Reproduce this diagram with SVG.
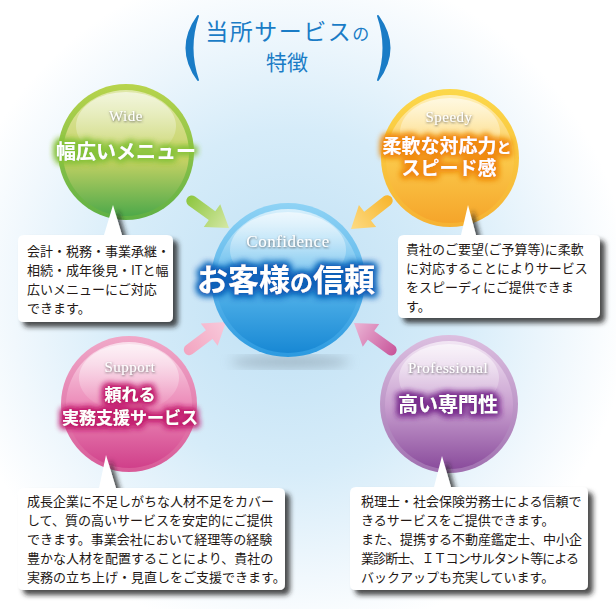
<svg xmlns="http://www.w3.org/2000/svg" width="616" height="609" viewBox="0 0 616 609">
<defs>
<style>
.jp{font-family:"Noto Sans CJK JP","Noto Sans",sans-serif}
.body{font-family:"Noto Sans CJK JP","Noto Sans",sans-serif;font-size:13px;fill:#231815}
.en{font-family:"Liberation Serif","DejaVu Serif",serif;fill:#fff;text-anchor:middle;letter-spacing:0.5px}
.big{font-family:"Noto Sans CJK JP","Noto Sans",sans-serif;font-weight:bold;fill:#fff;text-anchor:middle}
.box{fill:#fff;filter:url(#shadow)}
</style>
<radialGradient id="bg" cx="290" cy="300" r="340" gradientUnits="userSpaceOnUse">
<stop offset="0" stop-color="#bfe0f4"/><stop offset="0.5" stop-color="#d6ecf9"/><stop offset="0.82" stop-color="#f1f8fd"/><stop offset="1" stop-color="#ffffff"/>
</radialGradient>
<linearGradient id="hl" x1="0" y1="0" x2="0" y2="1"><stop offset="0" stop-color="#fff" stop-opacity="0.6"/><stop offset="1" stop-color="#fff" stop-opacity="0"/></linearGradient>
<linearGradient id="gO" x1="0" y1="0" x2="0" y2="1"><stop offset="0" stop-color="#b8d44c"/><stop offset="1" stop-color="#5fb045"/></linearGradient>
<linearGradient id="gI" x1="0" y1="0" x2="0" y2="1"><stop offset="0" stop-color="#dfe8a8"/><stop offset="0.55" stop-color="#c6d264"/><stop offset="1" stop-color="#4ea94a"/></linearGradient>
<linearGradient id="oO" x1="0" y1="0" x2="0" y2="1"><stop offset="0" stop-color="#fcd84a"/><stop offset="1" stop-color="#f6b233"/></linearGradient>
<linearGradient id="oI" x1="0" y1="0" x2="0" y2="1"><stop offset="0" stop-color="#fff0b8"/><stop offset="0.5" stop-color="#fbc94a"/><stop offset="1" stop-color="#f5a52a"/></linearGradient>
<linearGradient id="bO" x1="0" y1="0" x2="0" y2="1"><stop offset="0" stop-color="#8fd3f5"/><stop offset="1" stop-color="#2c9ae0"/></linearGradient>
<linearGradient id="bI" x1="0" y1="0" x2="0" y2="1"><stop offset="0" stop-color="#d8f0fc"/><stop offset="0.5" stop-color="#5ab8ec"/><stop offset="1" stop-color="#1888d4"/></linearGradient>
<linearGradient id="pO" x1="0" y1="0" x2="0" y2="1"><stop offset="0" stop-color="#f0a8c8"/><stop offset="1" stop-color="#d85a98"/></linearGradient>
<linearGradient id="pI" x1="0" y1="0" x2="0" y2="1"><stop offset="0" stop-color="#fae0ec"/><stop offset="0.5" stop-color="#ec8ab8"/><stop offset="1" stop-color="#d0408a"/></linearGradient>
<linearGradient id="vO" x1="0" y1="0" x2="0" y2="1"><stop offset="0" stop-color="#dcbfe0"/><stop offset="1" stop-color="#a070b0"/></linearGradient>
<linearGradient id="vI" x1="0" y1="0" x2="0" y2="1"><stop offset="0" stop-color="#f2e6f4"/><stop offset="0.5" stop-color="#c9a0d0"/><stop offset="1" stop-color="#8a4c9c"/></linearGradient>
<linearGradient id="aG" x1="0" y1="0" x2="1" y2="0"><stop offset="0" stop-color="#8dc63f"/><stop offset="1" stop-color="#d5e8a6"/></linearGradient>
<linearGradient id="aO" x1="0" y1="0" x2="1" y2="0"><stop offset="0" stop-color="#f7b52c"/><stop offset="1" stop-color="#fddb84"/></linearGradient>
<linearGradient id="aP" x1="0" y1="0" x2="1" y2="0"><stop offset="0" stop-color="#f2a4c0"/><stop offset="1" stop-color="#f8cadb"/></linearGradient>
<linearGradient id="aV" x1="0" y1="0" x2="1" y2="0"><stop offset="0" stop-color="#c8559a"/><stop offset="1" stop-color="#ebb6d6"/></linearGradient>
<filter id="shadow" x="-10%" y="-10%" width="130%" height="140%">
<feDropShadow dx="5" dy="5" stdDeviation="2.5" flood-color="#222" flood-opacity="0.8"/>
</filter>
<filter id="soft" x="-10%" y="-30%" width="120%" height="160%">
<feDropShadow dx="0.5" dy="1" stdDeviation="0.8" flood-color="#444" flood-opacity="0.85"/>
</filter>
<filter id="glowG" x="-20%" y="-60%" width="140%" height="220%"><feMorphology in="SourceAlpha" operator="dilate" radius="2" result="d"/><feGaussianBlur in="d" stdDeviation="3" result="b"/><feFlood flood-color="#86c23a"/><feComposite in2="b" operator="in" result="g"/><feMerge><feMergeNode in="g"/><feMergeNode in="g"/><feMergeNode in="SourceGraphic"/></feMerge></filter>
<filter id="glowO" x="-20%" y="-40%" width="140%" height="180%"><feMorphology in="SourceAlpha" operator="dilate" radius="2" result="d"/><feGaussianBlur in="d" stdDeviation="3" result="b"/><feFlood flood-color="#f08a10"/><feComposite in2="b" operator="in" result="g"/><feMerge><feMergeNode in="g"/><feMergeNode in="g"/><feMergeNode in="SourceGraphic"/></feMerge></filter>
<filter id="glowB" x="-20%" y="-60%" width="140%" height="220%"><feMorphology in="SourceAlpha" operator="dilate" radius="2" result="d"/><feGaussianBlur in="d" stdDeviation="3.5" result="b"/><feFlood flood-color="#0d5fb8"/><feComposite in2="b" operator="in" result="g"/><feMerge><feMergeNode in="g"/><feMergeNode in="g"/><feMergeNode in="SourceGraphic"/></feMerge></filter>
<filter id="glowP" x="-20%" y="-40%" width="140%" height="180%"><feMorphology in="SourceAlpha" operator="dilate" radius="2" result="d"/><feGaussianBlur in="d" stdDeviation="3" result="b"/><feFlood flood-color="#c2206e"/><feComposite in2="b" operator="in" result="g"/><feMerge><feMergeNode in="g"/><feMergeNode in="g"/><feMergeNode in="SourceGraphic"/></feMerge></filter>
<filter id="glowV" x="-20%" y="-60%" width="140%" height="220%"><feMorphology in="SourceAlpha" operator="dilate" radius="2" result="d"/><feGaussianBlur in="d" stdDeviation="3" result="b"/><feFlood flood-color="#7a2f8e"/><feComposite in2="b" operator="in" result="g"/><feMerge><feMergeNode in="g"/><feMergeNode in="g"/><feMergeNode in="SourceGraphic"/></feMerge></filter>
<filter id="blur6"><feGaussianBlur stdDeviation="6"/></filter>
<path id="arrow" d="M0,0 L-21,-14 L-21,-5.5 L-46,-5.5 A5.5,5.5 0 0 0 -46,5.5 L-21,5.5 L-21,14 Z"/>
</defs>

<rect width="616" height="609" fill="url(#bg)"/>

<g id="title">
<path d="M198,16 Q175,48 198,80 Q187,48 198,16 Z" fill="#1a7cc6" stroke="#1a7cc6" stroke-width="2" stroke-linejoin="round"/>
<path d="M378,16 Q401,48 378,80 Q389,48 378,16 Z" fill="#1a7cc6" stroke="#1a7cc6" stroke-width="2" stroke-linejoin="round"/>
<text class="jp" x="288" y="40" font-size="23" fill="#1a7cc6" text-anchor="middle" letter-spacing="1.5">当所サービス<tspan font-size="17">の</tspan></text>
<text class="jp" x="287" y="70" font-size="21" fill="#1a7cc6" text-anchor="middle">特徴</text>
</g>

<g id="connectors">
<use href="#arrow" fill="url(#aG)" transform="translate(229,228) rotate(36)"/>
<use href="#arrow" fill="url(#aO)" transform="translate(351,229) rotate(142)"/>
<use href="#arrow" fill="url(#aP)" transform="translate(226,322) rotate(-37)"/>
<use href="#arrow" fill="url(#aV)" transform="translate(354,323) rotate(216)"/>
</g>

<g id="node-confidence">
<ellipse cx="290" cy="362" rx="60" ry="6" fill="#7a8a96" opacity="0.5" filter="url(#blur6)"/>
<circle cx="288" cy="280" r="77" fill="url(#bO)"/>
<circle cx="288" cy="281" r="72" fill="url(#bI)"/>
<ellipse cx="288" cy="250" rx="58" ry="38" fill="url(#hl)"/>
<text class="en" x="288" y="247" font-size="17" filter="url(#soft)">Confidence</text>
<text class="big" x="286" y="291" font-size="31" filter="url(#glowB)">お客様<tspan font-size="23">の</tspan>信頼</text>
</g>

<g id="node-wide">
<circle cx="126" cy="152" r="68" fill="url(#gO)"/>
<circle cx="126" cy="153" r="63" fill="url(#gI)"/>
<ellipse cx="126" cy="126" rx="50" ry="34" fill="url(#hl)"/>
<text class="en" x="126" y="121" font-size="15" filter="url(#soft)">Wide</text>
<text class="big" x="126" y="159" font-size="20" filter="url(#glowG)">幅広いメニュー</text>
</g>

<g id="node-speedy">
<circle cx="450" cy="158" r="69" fill="url(#oO)"/>
<circle cx="450" cy="159" r="64" fill="url(#oI)"/>
<ellipse cx="450" cy="132" rx="50" ry="34" fill="url(#hl)"/>
<text class="en" x="449" y="122" font-size="15" filter="url(#soft)">Speedy</text>
<text class="big" font-size="19" filter="url(#glowO)"><tspan x="447" y="153">柔軟な対応力<tspan font-size="15">と</tspan></tspan><tspan x="449" y="175">スピード感</tspan></text>
</g>

<g id="node-support">
<circle cx="129" cy="404" r="68" fill="url(#pO)"/>
<circle cx="129" cy="405" r="63" fill="url(#pI)"/>
<ellipse cx="129" cy="378" rx="50" ry="34" fill="url(#hl)"/>
<text class="en" x="130" y="372" font-size="15" filter="url(#soft)">Support</text>
<text class="big" font-size="17" filter="url(#glowP)"><tspan x="130" y="401">頼れる</tspan><tspan x="130" y="424">実務支援サービス</tspan></text>
</g>

<g id="node-professional">
<circle cx="449" cy="404" r="69" fill="url(#vO)"/>
<circle cx="449" cy="405" r="64" fill="url(#vI)"/>
<ellipse cx="449" cy="378" rx="50" ry="34" fill="url(#hl)"/>
<text class="en" x="448" y="373" font-size="15" filter="url(#soft)">Professional</text>
<text class="big" x="448" y="412" font-size="20" filter="url(#glowV)">高い専門性</text>
</g>

<g id="box-wide">
<path class="box" d="M24,235 H104 L113,205 L122,235 H167 Q173,235 173,241 V316 Q173,322 167,322 H24 Q18,322 18,316 V241 Q18,235 24,235 Z"/>
<text class="body"><tspan x="27" y="256">会計・税務・事業承継・</tspan><tspan x="27" y="275">相続・成年後見・ITと幅</tspan><tspan x="27" y="294">広いメニューにご対応</tspan><tspan x="27" y="313">できます。</tspan></text>
</g>

<g id="box-speedy">
<path class="box" d="M404,235 H461 L468,205 L476,235 H594 Q600,235 600,241 V312 Q600,318 594,318 H404 Q398,318 398,312 V241 Q398,235 404,235 Z"/>
<text class="body"><tspan x="406" y="254">貴社のご要望(ご予算等)に柔軟</tspan><tspan x="406" y="273">に対応することによりサービス</tspan><tspan x="406" y="292">をスピーディにご提供できま</tspan><tspan x="406" y="311">す。</tspan></text>
</g>

<g id="box-support">
<path class="box" d="M24,488 H99 L106,455 L116,488 H279 Q285,488 285,494 V584 Q285,590 279,590 H24 Q18,590 18,584 V494 Q18,488 24,488 Z"/>
<text class="body"><tspan x="27" y="506">成長企業に不足しがちな人材不足をカバー</tspan><tspan x="27" y="525">して、質の高いサービスを安定的にご提供</tspan><tspan x="27" y="544">できます。事業会社において経理等の経験</tspan><tspan x="27" y="563">豊かな人材を配置することにより、貴社の</tspan><tspan x="27" y="582">実務の立ち上げ・見直しをご支援できます。</tspan></text>
</g>

<g id="box-professional">
<path class="box" d="M356,487 H434 L442,456 L451,487 H582 Q588,487 588,493 V584 Q588,590 582,590 H356 Q350,590 350,584 V493 Q350,487 356,487 Z"/>
<text class="body"><tspan x="361" y="506">税理士・社会保険労務士による信頼で</tspan><tspan x="361" y="525">きるサービスをご提供できます。</tspan><tspan x="361" y="544">また、提携する不動産鑑定士、中小企</tspan></text>
<text class="body" x="361" y="563" textLength="218" lengthAdjust="spacing">業診断士、ＩＴコンサルタント等による</text>
<text class="body"><tspan x="361" y="582">バックアップも充実しています。</tspan></text>
</g>
</svg>
